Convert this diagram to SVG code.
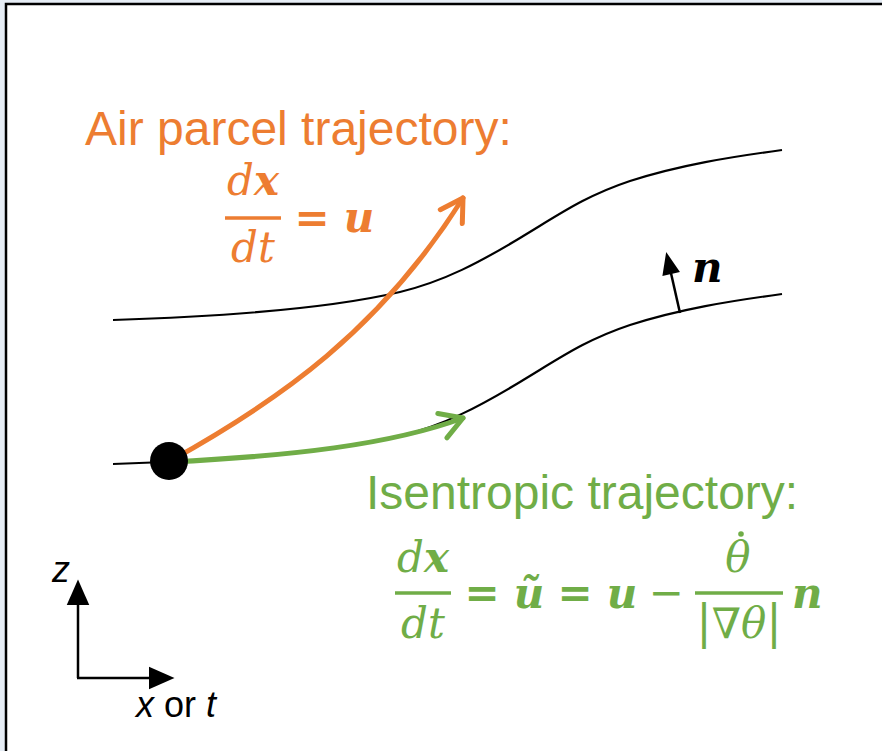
<svg xmlns="http://www.w3.org/2000/svg" width="882" height="751" viewBox="0 0 882 751">
  <defs>
    <style>
      .title { font-family: "Liberation Sans", Arial, sans-serif; font-size: 48px; }
      .orange { fill: #ED7D31; }
      .green { fill: #70AD47; }
      .math { font-family: "DejaVu Serif", "Liberation Serif", serif; font-style: italic; font-size: 42px; }
      .vec { font-weight: bold; }
      .up { font-style: normal; }
      .op { font-style: normal; font-weight: bold; }
      .bar-o { stroke: #ED7D31; stroke-width: 3.5; }
      .bar-g { stroke: #70AD47; stroke-width: 3.5; }
      .curve { fill: none; stroke: #000; stroke-width: 2.2; }
      .axis { fill: none; stroke: #000; stroke-width: 2.5; }
      .lbl { font-family: "Liberation Sans", Arial, sans-serif; font-size: 36px; fill: #000; }
    </style>
    <marker id="chev-o" markerUnits="userSpaceOnUse" markerWidth="40" markerHeight="40" viewBox="-30 -20 40 40" refX="0" refY="0" orient="auto" overflow="visible">
      <path d="M-22,-13 L0,0 L-22,13" fill="none" stroke="#ED7D31" stroke-width="5" stroke-linecap="round" stroke-linejoin="round"/>
    </marker>
    <marker id="chev-g" markerUnits="userSpaceOnUse" markerWidth="40" markerHeight="40" viewBox="-30 -20 40 40" refX="0" refY="0" orient="auto" overflow="visible">
      <path d="M-22,-13 L0,0 L-22,13" fill="none" stroke="#70AD47" stroke-width="5" stroke-linecap="round" stroke-linejoin="round"/>
    </marker>
    <marker id="tri" markerUnits="userSpaceOnUse" markerWidth="30" markerHeight="30" viewBox="0 -10 20 20" refX="2" refY="0" orient="auto" overflow="visible">
      <path d="M0,-7.5 L17,0 L0,7.5 Z" fill="#000"/>
    </marker>
    <marker id="tri-s" markerUnits="userSpaceOnUse" markerWidth="30" markerHeight="30" viewBox="0 -10 20 20" refX="2" refY="0" orient="auto" overflow="visible">
      <path d="M0,-6 L15,0 L0,6 Z" fill="#000"/>
    </marker>
  </defs>

  <!-- frame -->
  <g id="frame">
    <rect x="0" y="0" width="882" height="751" fill="#e6edf5"/>
    <rect x="6" y="4" width="876" height="747" fill="#ffffff"/>
    <path d="M6,751 V4 H882" fill="none" stroke="#000" stroke-width="2.5"/>
  </g>

  <!-- isentropes -->
  <g id="isentrope-upper">
    <path class="curve" d="M113,320 C240,316 340,306 400,292 C445,281 480,262 520,238 C560,214 585,196 630,181 C680,165 730,157 782,150"/>
  </g>
  <g id="isentrope-lower">
    <path class="curve" transform="translate(0,144)" d="M113,320 C240,316 340,306 400,292 C445,281 480,262 520,238 C560,214 585,196 630,181 C680,165 730,157 782,150"/>
  </g>

  <!-- connectors -->
  <g id="connectors">
    <path d="M170,461 C280,400 380,330 463,198" fill="none" stroke="#ED7D31" stroke-width="5" stroke-linecap="round" marker-end="url(#chev-o)"/>
    <path d="M170,462 C290,456 390,445 463,418" fill="none" stroke="#70AD47" stroke-width="5" stroke-linecap="round" marker-end="url(#chev-g)"/>
    <path d="M680,313 L670.5,271" class="axis" marker-end="url(#tri-s)"/>
    <path d="M78,678 V602" class="axis" marker-end="url(#tri)"/>
    <path d="M77,678 H152" class="axis" marker-end="url(#tri)"/>
  </g>

  <!-- parcel -->
  <g id="parcel">
    <circle cx="169" cy="461" r="19" fill="#000"/>
  </g>

  <!-- normal label -->
  <g id="normal-label">
    <text class="math vec" x="692" y="282" font-size="35">n</text>
  </g>

  <!-- air parcel trajectory -->
  <g id="air-parcel">
    <text class="title orange" x="85" y="145">Air parcel trajectory:</text>
    <text class="math orange" x="253" y="195" text-anchor="middle">d<tspan class="vec">x</tspan></text>
    <line class="bar-o" x1="225" y1="218" x2="281" y2="218"/>
    <text class="math orange" x="253" y="262" text-anchor="middle">dt</text>
    <text class="math op orange" x="312" y="232" text-anchor="middle">=</text>
    <text class="math vec orange" x="359" y="232" text-anchor="middle">u</text>
  </g>

  <!-- isentropic trajectory -->
  <g id="isentropic">
    <text class="title green" x="366" y="509">Isentropic trajectory:</text>
    <text class="math green" x="423" y="572" text-anchor="middle">d<tspan class="vec">x</tspan></text>
    <line class="bar-g" x1="395" y1="593" x2="451" y2="593"/>
    <text class="math green" x="423" y="638" text-anchor="middle">dt</text>
    <text class="math op green" x="482" y="607" text-anchor="middle">=</text>
    <text class="math vec green" x="529" y="608" text-anchor="middle">ũ</text>
    <text class="math op green" x="575" y="607" text-anchor="middle">=</text>
    <text class="math vec green" x="622" y="608" text-anchor="middle">u</text>
    <text class="math up green" x="666" y="607" text-anchor="middle" font-size="46">−</text>
    <text class="math green" x="738" y="572" text-anchor="middle">θ</text>
    <circle cx="741" cy="534" r="2.8" fill="#70AD47"/>
    <line class="bar-g" x1="695" y1="593" x2="783" y2="593"/>
    <text class="math green" x="739" y="638" text-anchor="middle"><tspan class="up" font-size="46">|</tspan>∇θ<tspan class="up" font-size="46">|</tspan></text>
    <text class="math vec green" x="792" y="608">n</text>
  </g>

  <!-- axes labels -->
  <g id="axes">
    <text class="lbl" x="52" y="582" font-style="italic">z</text>
    <text class="lbl" x="136" y="717"><tspan font-style="italic">x</tspan> or <tspan font-style="italic">t</tspan></text>
  </g>
</svg>
